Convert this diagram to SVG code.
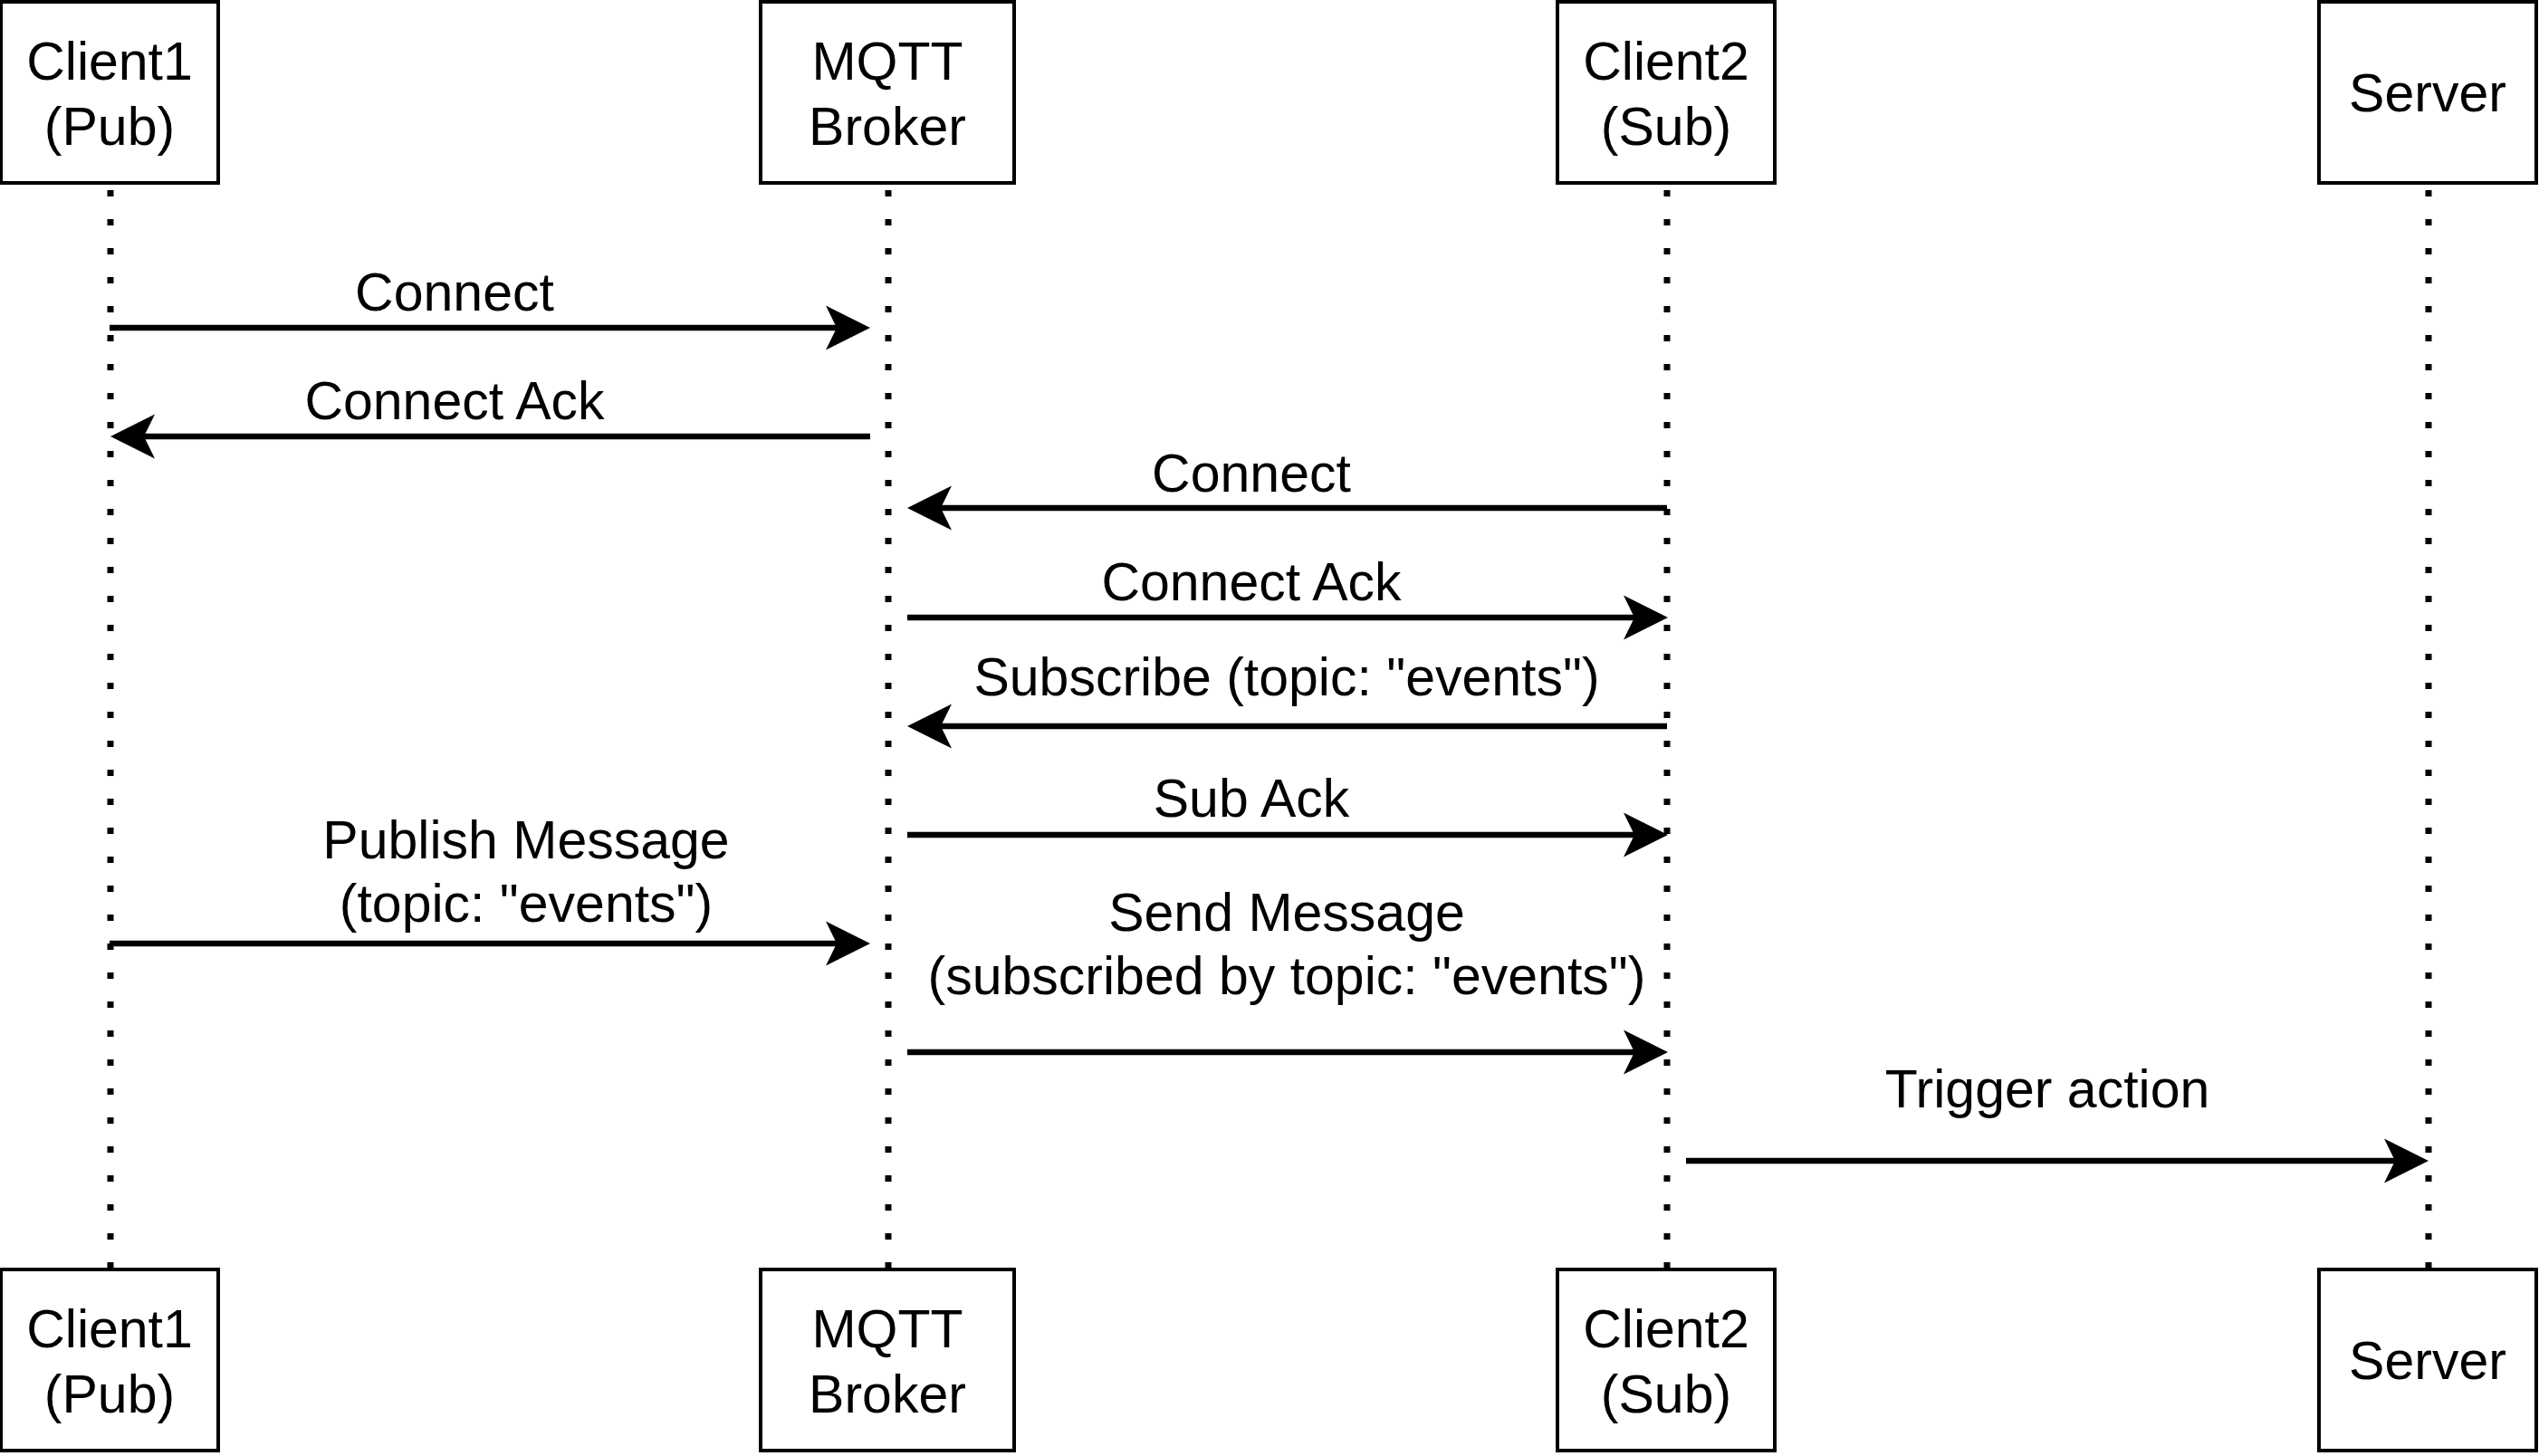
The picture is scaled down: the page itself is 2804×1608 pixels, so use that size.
<svg xmlns="http://www.w3.org/2000/svg" width="2804" height="1608" viewBox="0 0 2804 1608">
<style>
.box{fill:#fff;stroke:#000;stroke-width:4}
.life{stroke:#000;stroke-width:7;stroke-dasharray:7 25;fill:none}
.msg{stroke:#000;stroke-width:6.5;fill:none;marker-end:url(#arr)}
text{font-family:"Liberation Sans",Arial,Helvetica,sans-serif;font-size:59px;fill:#000;text-anchor:middle}
</style>
<defs>
<marker id="arr" viewBox="0 0 50 50" markerUnits="userSpaceOnUse" markerWidth="50" markerHeight="50" refX="12" refY="25" orient="auto">
<path d="M49,25 L0,0.5 L12,25 L0,49.5 Z" fill="#000"/>
</marker>
</defs>
<rect width="2804" height="1608" fill="#fff"/>
<g id="lifelines">
<path class="life" d="M122,210 V1401"/>
<path class="life" d="M981,210 V1401"/>
<path class="life" d="M1841,210 V1401"/>
<path class="life" d="M2682,210 V1401"/>
</g>
<g id="client1-top"><rect class="box" x="1" y="2" width="240" height="200"/><text x="121" y="88">Client1</text><text x="121" y="160">(Pub)</text></g>
<g id="broker-top"><rect class="box" x="840" y="2" width="280" height="200"/><text x="980" y="88">MQTT</text><text x="980" y="160">Broker</text></g>
<g id="client2-top"><rect class="box" x="1720" y="2" width="240" height="200"/><text x="1840" y="88">Client2</text><text x="1840" y="160">(Sub)</text></g>
<g id="server-top"><rect class="box" x="2561" y="2" width="240" height="200"/><text x="2681" y="123">Server</text></g>
<g id="client1-bottom"><rect class="box" x="1" y="1402" width="240" height="200"/><text x="121" y="1488">Client1</text><text x="121" y="1560">(Pub)</text></g>
<g id="broker-bottom"><rect class="box" x="840" y="1402" width="280" height="200"/><text x="980" y="1488">MQTT</text><text x="980" y="1560">Broker</text></g>
<g id="client2-bottom"><rect class="box" x="1720" y="1402" width="240" height="200"/><text x="1840" y="1488">Client2</text><text x="1840" y="1560">(Sub)</text></g>
<g id="server-bottom"><rect class="box" x="2561" y="1402" width="240" height="200"/><text x="2681" y="1523">Server</text></g>
<g id="connectors">
<path class="msg" d="M121,362 H924"/>
<path class="msg" d="M961,482 H159"/>
<path class="msg" d="M1841,561 H1039"/>
<path class="msg" d="M1002,682 H1805"/>
<path class="msg" d="M1841,802 H1039"/>
<path class="msg" d="M1002,922 H1805"/>
<path class="msg" d="M121,1042 H924"/>
<path class="msg" d="M1002,1162 H1805"/>
<path class="msg" d="M1862,1282 H2645"/>
</g>
<g id="labels">
<text x="502" y="343">Connect</text>
<text x="502" y="463">Connect Ack</text>
<text x="1382" y="543">Connect</text>
<text x="1382" y="663">Connect Ack</text>
<text x="1421" y="768">Subscribe (topic: "events")</text>
<text x="1382" y="902">Sub Ack</text>
<text x="581" y="948">Publish Message</text>
<text x="581" y="1018">(topic: "events")</text>
<text x="1421" y="1028">Send Message</text>
<text x="1421" y="1098">(subscribed by topic: "events")</text>
<text x="2261" y="1223">Trigger action</text>
</g>
</svg>
